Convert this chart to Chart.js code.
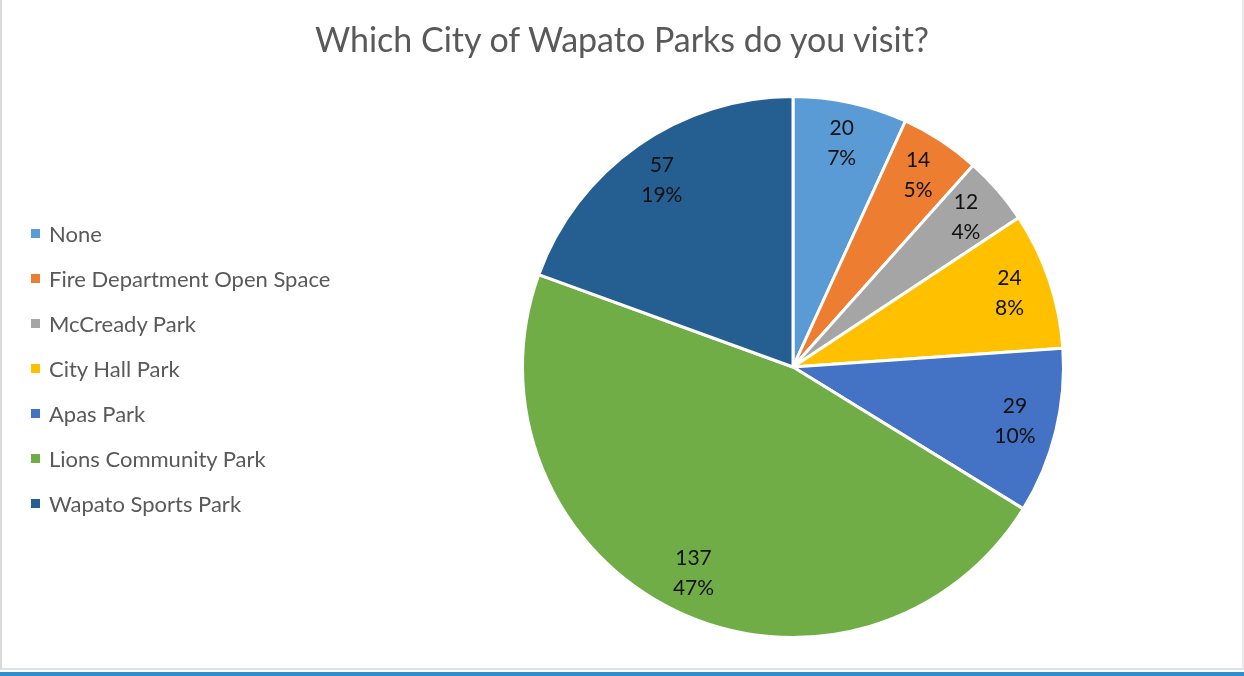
<!DOCTYPE html>
<html>
<head>
<meta charset="utf-8">
<script src="https://cdn.jsdelivr.net/npm/chart.js@4"></script>
<style>
  body { margin: 0; background: #fff; font-family: Lato, "Open Sans", sans-serif; }
  #frame { position: absolute; left: 0; top: 0; width: 1240px; height: 668px;
    border-left: 2px solid #d9d9d9; border-right: 2px solid #e8e8e8; border-bottom: 2px solid #e0e0e0; }
  #bar { position: absolute; left: 0; top: 672px; width: 1244px; height: 4px; background: #2e8fd0; }
  #title { position: absolute; left: 0; width: 1244px; top: 18px; text-align: center;
    font-size: 34px; color: #595959; }
  #legend { position: absolute; left: 31px; top: 220px; }
  .item { height: 45px; display: flex; align-items: flex-start; font-size: 22px; color: #595959; }
  .box { width: 9px; height: 9px; margin-right: 9px; margin-top: 9px; }
  canvas { position: absolute; left: 0; top: 0; }
</style>
</head>
<body>
<div id="frame"></div>
<div id="bar"></div>
<canvas id="pie" width="1244" height="668"></canvas>
<div id="title">Which City of Wapato Parks do you visit?</div>
<div id="legend"></div>
<script>
const parks = ["None", "Fire Department Open Space", "McCready Park", "City Hall Park",
  "Apas Park", "Lions Community Park", "Wapato Sports Park"];
const visits = [20, 14, 12, 24, 29, 137, 57];
const percents = ["7%", "5%", "4%", "8%", "10%", "47%", "19%"];
const colors = ["#5b9bd5", "#ed7d31", "#a5a5a5", "#ffc000", "#4472c4", "#70ad47", "#255e91"];

// legend on the left
const legend = document.getElementById("legend");
parks.forEach(function (name, i) {
  const row = document.createElement("div");
  row.className = "item";
  row.innerHTML = '<span class="box" style="background:' + colors[i] + '"></span>' + name;
  legend.appendChild(row);
});

// value + percent written inside each slice
const sliceLabels = {
  id: "sliceLabels",
  afterDatasetsDraw(chart) {
    const ctx = chart.ctx;
    const arcs = chart.getDatasetMeta(0).data;
    ctx.save();
    ctx.font = "21px Lato, 'Open Sans', sans-serif";
    ctx.fillStyle = "#111";
    ctx.textAlign = "center";
    ctx.textBaseline = "middle";
    arcs.forEach(function (arc, i) {
      const p = arc.getProps(["x", "y", "startAngle", "endAngle", "outerRadius"], true);
      const mid = (p.startAngle + p.endAngle) / 2;
      const r = p.outerRadius * 0.845;
      const x = p.x + Math.cos(mid) * r;
      const y = p.y + Math.sin(mid) * r;
      ctx.fillText(String(visits[i]), x, y - 15);
      ctx.fillText(percents[i], x, y + 15);
    });
    ctx.restore();
  }
};

const ctx = document.getElementById("pie").getContext("2d");
new Chart(ctx, {
  type: "pie",
  data: {
    labels: parks,
    datasets: [{
      data: visits,
      backgroundColor: colors,
      borderColor: "#ffffff",
      borderWidth: 3
    }]
  },
  options: {
    responsive: false,
    animation: false,
    layout: { padding: { left: 521, right: 179, top: 95, bottom: 29 } },
    plugins: {
      legend: { display: false },
      tooltip: { enabled: false }
    }
  },
  plugins: [sliceLabels]
});
</script>
</body>
</html>
